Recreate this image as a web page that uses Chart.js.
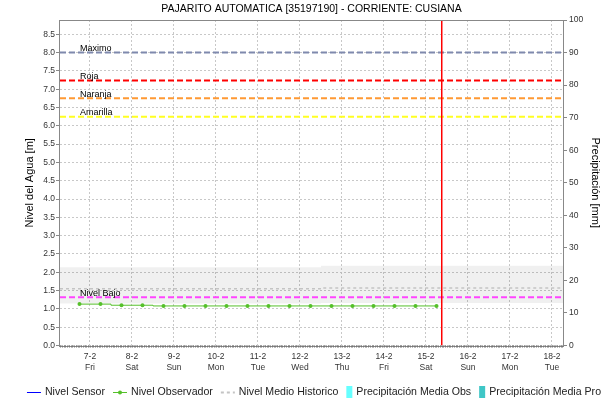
<!DOCTYPE html>
<html>
<head>
<meta charset="utf-8">
<script src="https://cdn.jsdelivr.net/npm/chart.js@4.4.0/dist/chart.umd.min.js"></script>
<style>
  html, body { margin: 0; padding: 0; background: #fff; }
</style>
</head>
<body>
<canvas id="chart" width="616" height="403"></canvas>
<script>
// Eje x: dias de febrero
const tickDays = [7, 8, 9, 10, 11, 12, 13, 14, 15, 16, 17, 18];
const tickDates = ['7-2', '8-2', '9-2', '10-2', '11-2', '12-2', '13-2', '14-2', '15-2', '16-2', '17-2', '18-2'];
const tickWeekdays = ['Fri', 'Sat', 'Sun', 'Mon', 'Tue', 'Wed', 'Thu', 'Fri', 'Sat', 'Sun', 'Mon', 'Tue'];
const xMin = 6.286;
const xMax = 18.262;
const nowDay = 15.375;

// Nivel observador (06:00 y 18:00)
const obsDays = [6.75, 7.25, 7.75, 8.25, 8.75, 9.25, 9.75, 10.25, 10.75, 11.25, 11.75, 12.25, 12.75, 13.25, 13.75, 14.25, 14.75, 15.25];
const obsLevels = [1.13, 1.13, 1.10, 1.10, 1.08, 1.08, 1.08, 1.08, 1.08, 1.08, 1.08, 1.08, 1.08, 1.08, 1.08, 1.08, 1.08, 1.08];

// Nivel medio historico y su rango
const histDays = [6, 7, 8, 9, 10, 11, 12, 13, 14, 15, 16, 17, 18, 19];
const histMin = [1.15, 1.15, 1.15, 1.15, 1.15, 1.15, 1.15, 1.16, 1.16, 1.16, 1.16, 1.16, 1.16, 1.16];
const histMax = [2.14, 2.14, 2.14, 2.14, 2.14, 2.14, 2.14, 2.18, 2.18, 2.18, 2.18, 2.18, 2.18, 2.18];
const histMedian = [1.55, 1.55, 1.55, 1.55, 1.55, 1.55, 1.55, 1.57, 1.57, 1.57, 1.57, 1.57, 1.57, 1.57];

// Umbrales
const thresholdNames = ['Maximo', 'Roja', 'Naranja', 'Amarilla', 'Nivel Bajo'];
const thresholdLevels = [8.0, 7.24, 6.75, 6.25, 1.32];
const thresholdColors = ['#7f89ad', '#ff0000', '#ff9933', '#ffff22', '#ff44ff'];

// Sensor y precipitacion (sin datos en el periodo)
const sensorLevels = [];
const precipObs = [];
const precipPro = [];

// Ejes y
const levelTicks = [0, 0.5, 1, 1.5, 2, 2.5, 3, 3.5, 4, 4.5, 5, 5.5, 6, 6.5, 7, 7.5, 8, 8.5];
const levelMax = 80 / 9;
const precipMax = 100;

const FONT = '"Liberation Sans", Arial, sans-serif';
const GREEN = '#55c02a';

const datasets = [];

datasets.push({
  label: 'Ahora',
  data: [{ x: nowDay, y: 0 }, { x: nowDay, y: levelMax }],
  borderColor: '#ff0000',
  borderWidth: 1.5,
  pointRadius: 0,
  order: 0
});

datasets.push({
  label: 'Nivel Observador',
  data: obsDays.map((d, i) => ({ x: d, y: obsLevels[i] })),
  borderColor: GREEN,
  backgroundColor: GREEN,
  borderWidth: 1,
  pointRadius: 2,
  pointBorderWidth: 0,
  stepped: 'middle',
  order: 1,
  legendMarker: 'linePoint'
});

datasets.push({
  label: 'Nivel Sensor',
  data: sensorLevels,
  borderColor: '#0000ff',
  borderWidth: 1,
  pointRadius: 0,
  order: 2,
  legendMarker: 'line'
});

thresholdNames.forEach((name, i) => {
  datasets.push({
    label: name,
    data: [{ x: xMin, y: thresholdLevels[i] }, { x: xMax, y: thresholdLevels[i] }],
    borderColor: thresholdColors[i],
    borderWidth: 2,
    borderDash: [6, 3],
    pointRadius: 0,
    order: 3
  });
});

datasets.push({
  label: 'Nivel Medio Historico',
  data: histDays.map((d, i) => ({ x: d, y: histMedian[i] })),
  borderColor: '#c4c4c4',
  borderWidth: 1.5,
  borderDash: [3, 3],
  pointRadius: 0,
  stepped: 'middle',
  order: 4,
  legendMarker: 'dash'
});

datasets.push({
  label: 'histMin',
  data: histDays.map((d, i) => ({ x: d, y: histMin[i] })),
  borderWidth: 0,
  pointRadius: 0,
  stepped: 'middle',
  order: 5
});
datasets.push({
  label: 'histMax',
  data: histDays.map((d, i) => ({ x: d, y: histMax[i] })),
  borderWidth: 0,
  pointRadius: 0,
  stepped: 'middle',
  fill: '-1',
  backgroundColor: 'rgba(0,0,0,0.06)',
  order: 6
});

datasets.push({
  type: 'bar',
  label: 'Precipitación Media Obs',
  data: precipObs,
  yAxisID: 'y1',
  backgroundColor: '#66ffff',
  order: 7,
  legendMarker: 'box'
});
datasets.push({
  type: 'bar',
  label: 'Precipitación Media Pro',
  data: precipPro,
  yAxisID: 'y1',
  backgroundColor: '#3fc6c6',
  order: 8,
  legendMarker: 'box'
});

const legendOrder = ['Nivel Sensor', 'Nivel Observador', 'Nivel Medio Historico', 'Precipitación Media Obs', 'Precipitación Media Pro'];

const decor = {
  id: 'decor',
  afterDatasetsDraw(chart) {
    const { ctx, scales: { x, y } } = chart;
    ctx.save();
    ctx.font = '9px ' + FONT;
    ctx.fillStyle = '#000';
    ctx.textBaseline = 'alphabetic';
    thresholdNames.forEach((name, i) => {
      ctx.fillText(name, x.getPixelForValue(xMin) + 20, y.getPixelForValue(thresholdLevels[i]) - 1.5);
    });
    ctx.restore();
  },
  afterDraw(chart) {
    const { ctx, chartArea: a, scales: { x } } = chart;
    ctx.save();
    // marco
    ctx.strokeStyle = '#888';
    ctx.lineWidth = 1;
    ctx.strokeRect(Math.round(a.left) - 0.5, Math.round(a.top) + 0.5, Math.round(a.right - a.left) + 1, Math.round(a.bottom - a.top));
    // marcas horarias
    ctx.strokeStyle = '#777';
    ctx.beginPath();
    for (let h = Math.ceil(xMin * 24); h <= xMax * 24; h++) {
      const px = Math.round(x.getPixelForValue(h / 24)) + 0.5;
      ctx.moveTo(px, a.bottom);
      ctx.lineTo(px, a.bottom + 2);
    }
    ctx.stroke();

    // leyenda
    ctx.font = '10.6px ' + FONT;
    ctx.textBaseline = 'middle';
    ctx.fillStyle = '#222';
    const items = legendOrder.map(name => chart.data.datasets.find(d => d.label === name));
    const gap = 4, spacing = 8;
    const markerW = it => it.legendMarker === 'box' ? 6 : 14;
    let total = 0;
    items.forEach((it, i) => {
      total += markerW(it) + gap + ctx.measureText(it.label).width + (i ? spacing : 0);
    });
    let cx = 314 - total / 2;
    const cy = 392;
    items.forEach(it => {
      const w = markerW(it);
      ctx.save();
      if (it.legendMarker === 'box') {
        ctx.fillStyle = it.backgroundColor;
        ctx.fillRect(cx, cy - 6, 6, 12);
      } else {
        ctx.strokeStyle = it.borderColor;
        ctx.lineWidth = it.legendMarker === 'dash' ? 2 : 1;
        ctx.setLineDash(it.legendMarker === 'dash' ? [3, 3] : []);
        ctx.beginPath();
        ctx.moveTo(cx, cy + 0.5);
        ctx.lineTo(cx + w, cy + 0.5);
        ctx.stroke();
        if (it.legendMarker === 'linePoint') {
          ctx.fillStyle = it.borderColor;
          ctx.beginPath();
          ctx.arc(cx + w / 2, cy + 0.5, 2, 0, Math.PI * 2);
          ctx.fill();
        }
      }
      ctx.restore();
      cx += w + gap;
      ctx.fillText(it.label, cx, cy);
      cx += ctx.measureText(it.label).width + spacing;
    });
    ctx.restore();
  }
};

const chart = new Chart(document.getElementById('chart'), {
  type: 'line',
  data: { datasets },
  plugins: [decor],
  options: {
    responsive: false,
    animation: false,
    layout: { padding: { left: 0, right: 0, top: 0, bottom: 22.5 } },
    plugins: {
      legend: { display: false },
      tooltip: { enabled: false },
      title: {
        display: true,
        fullSize: false,
        text: 'PAJARITO AUTOMATICA [35197190] - CORRIENTE: CUSIANA',
        color: '#000',
        font: { family: FONT, size: 10.5, weight: 'normal' },
        padding: { top: 3, bottom: 4.4 }
      }
    },
    scales: {
      x: {
        type: 'linear',
        min: xMin,
        max: xMax,
        offset: false,
        afterBuildTicks: s => { s.ticks = tickDays.map(v => ({ value: v })); },
        afterFit: s => { s.height = 35; },
        ticks: {
          autoSkip: false,
          maxRotation: 0,
          padding: 3,
          color: '#333',
          font: { family: FONT, size: 8.5, lineHeight: 1.35 },
          callback: (v, i) => [tickDates[i], tickWeekdays[i]]
        },
        grid: { offset: false, color: '#c8c8c8', tickLength: 2, tickColor: '#c8c8c8' },
        border: { display: false, dash: [2, 2] }
      },
      y: {
        position: 'left',
        min: 0,
        max: levelMax,
        afterBuildTicks: s => { s.ticks = levelTicks.map(v => ({ value: v })); },
        afterFit: s => { s.width = 60; },
        ticks: {
          padding: 1,
          color: '#333',
          font: { family: FONT, size: 8.5 },
          callback: v => v.toFixed(1)
        },
        grid: { color: '#c8c8c8', tickLength: 4, tickColor: '#888' },
        border: { display: false, dash: [2, 2] },
        title: {
          display: true,
          text: 'Nivel del Agua [m]',
          color: '#000',
          font: { family: FONT, size: 11 },
          padding: { top: 23.4, bottom: 0 }
        }
      },
      y1: {
        position: 'right',
        min: 0,
        max: precipMax,
        afterFit: s => { s.width = 53; },
        ticks: {
          stepSize: 10,
          padding: 2,
          color: '#333',
          font: { family: FONT, size: 8.5 }
        },
        grid: { drawOnChartArea: false, tickLength: 4, tickColor: '#888' },
        border: { display: false },
        title: {
          display: true,
          text: 'Precipitación [mm]',
          color: '#000',
          font: { family: FONT, size: 11 },
          padding: { top: 14.4, bottom: 0 }
        }
      }
    }
  }
});
</script>
</body>
</html>
